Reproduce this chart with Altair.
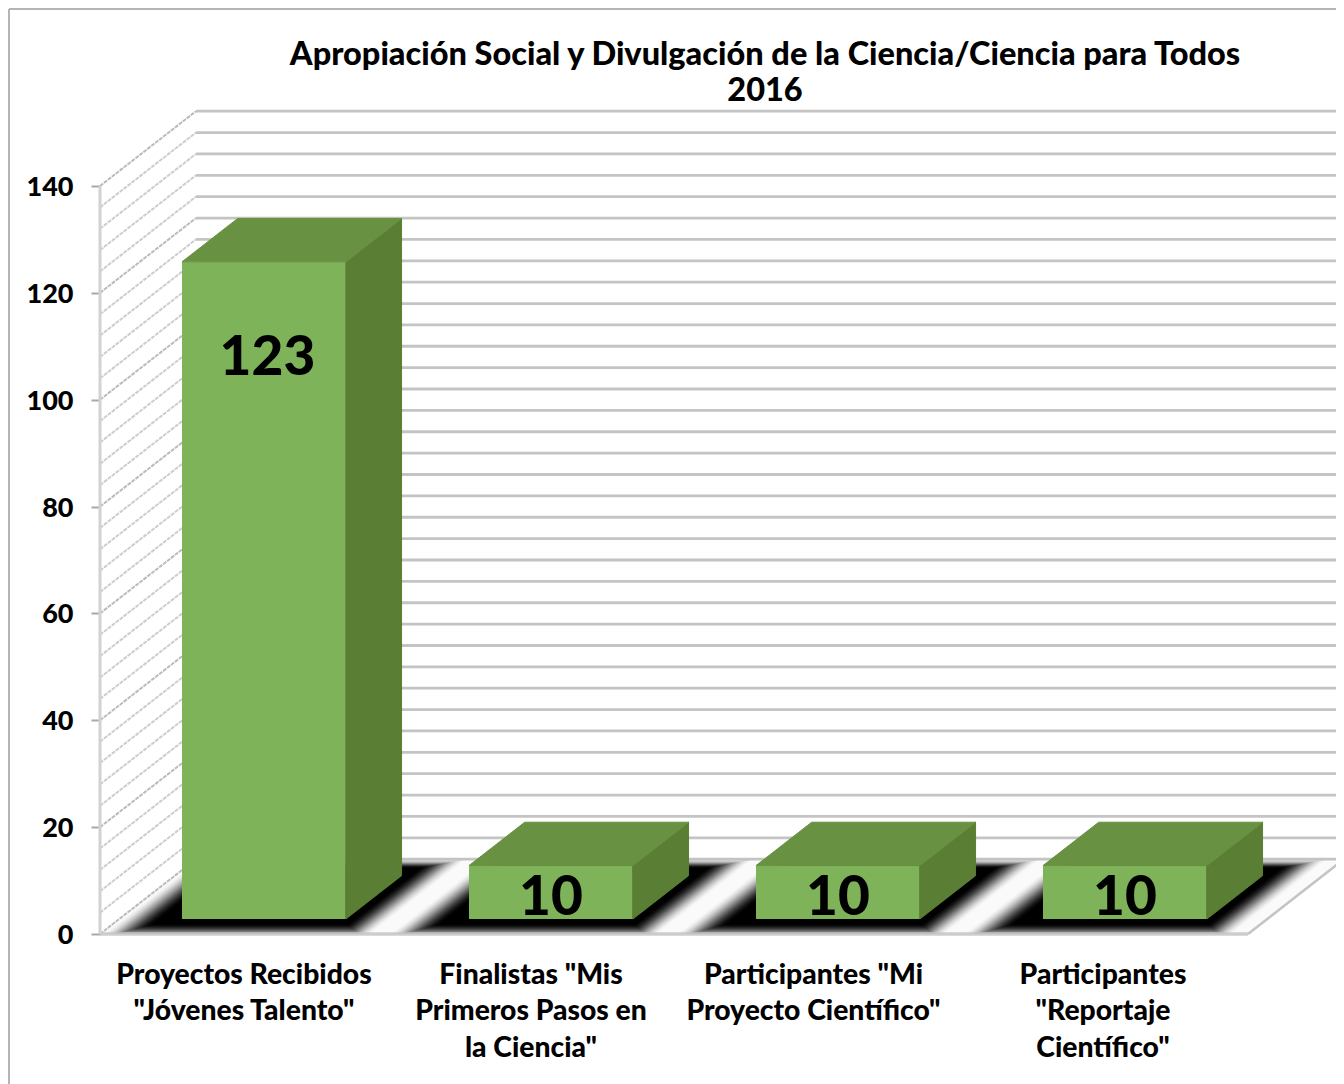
import altair as alt
import pandas as pd

title_lines = ["Apropiación Social y Divulgación de la Ciencia/Ciencia para Todos", "2016"]
categories = ['Proyectos Recibidos\n"Jóvenes Talento"',
              'Finalistas "Mis\nPrimeros Pasos en\nla Ciencia"',
              'Participantes "Mi\nProyecto Científico"',
              'Participantes\n"Reportaje\nCientífico"']
values = [123, 10, 10, 10]
y_ticks = [0, 20, 40, 60, 80, 100, 120, 140]
minor_step = 4

# projection of the oblique box
PX_U = 287.0
PX_V = 5.343
ORIGIN_X, ORIGIN_Y = 100.0, 934.0
W, H = 1328, 1076
DU = 96 / PX_U
DV = 14.0
FRONT, BACK = 0.2, 0.78
GAP, BAR_W = 0.2188, 0.571

x_scale = alt.Scale(domain=[(8 - ORIGIN_X) / PX_U, (8 + W - ORIGIN_X) / PX_U], nice=False, zero=False)
y_scale = alt.Scale(domain=[(ORIGIN_Y - 8 - H) / PX_V, (ORIGIN_Y - 8) / PX_V], nice=False, zero=False)
y_axis = alt.Axis(values=y_ticks, grid=False, domain=False, offset=-92, tickSize=9, tickWidth=2,
                  tickColor="#a8a8a8", labelFont="Lato", labelFontWeight=900, labelFontSize=27,
                  labelColor="black", labelPadding=18, labelOffset=1.5, format="d", title=None)
X = alt.X("x:Q", scale=x_scale, axis=None)
Y = alt.Y("y:Q", scale=y_scale, axis=y_axis, stack=None)
Y2 = alt.Y2("y2:Q")


def para(x0, x1, yf, d0, d1, gid, extra=None):
    """Flat parallelogram between x0 and x1, at height yf, from depth d0 to depth d1."""
    lo = yf + d0 * DV
    hi = yf + d1 * DV
    rows = [(x0 + d0 * DU, lo, lo), (x0 + d1 * DU, lo, hi), (x1 + d0 * DU, lo, hi), (x1 + d1 * DU, hi, hi)]
    out = [{"x": r[0], "y": r[1], "y2": r[2], "g": gid} for r in rows]
    if extra:
        for o in out:
            o.update(extra)
    return out


def area(rows, **kw):
    return alt.Chart(pd.DataFrame(rows)).mark_area(orient="vertical", interpolate="linear", **kw).encode(
        x=X, y=Y, y2=Y2, detail="g:N")


def lines(rows, **kw):
    return alt.Chart(pd.DataFrame(rows)).mark_line(**kw).encode(x=X, y=Y, detail="g:N")


levels = list(range(0, max(y_ticks) + 1, minor_step))

back_rows, side_minor, side_major = [], [], []
for v in levels:
    back_rows += [{"x": DU, "y": v + DV, "g": v}, {"x": 4 + DU, "y": v + DV, "g": v}]
    row = [{"x": 0, "y": v, "g": v}, {"x": DU, "y": v + DV, "g": v}]
    if v in y_ticks:
        side_major += row
    else:
        side_minor += row

# Soft shadow on the floor, as stacked translucent footprints
N = 18
shadow_rows = []
prev = 0.0
for j in range(N):
    t = (j + 1) / N
    target = t * t * (3 - 2 * t)
    alpha = 1 - (1 - target) / (1 - prev) if prev < 1 else 0
    prev = min(target, 0.999)
    s = 1 - j / (N - 1)          # outermost first
    ex_l = (22 + 38 * s) / PX_U
    ex_r = (8 + 36 * s) / PX_U
    ed = (5 + 15 * s) / 75
    eb = 9 * (1 - s) / 75
    for i in range(len(values)):
        x0 = i + GAP
        shadow_rows += para(x0 - ex_l, x0 + BAR_W + ex_r, 0, max(0, FRONT - ed), 1 - eb, f"{i}-{j}", {"op": alpha})

shadow = alt.Chart(pd.DataFrame(shadow_rows)).mark_area(orient="vertical", color="black").encode(
    x=X, y=Y, y2=Y2, detail="g:N", opacity=alt.Opacity("op:Q", scale=None))

front_rows, side_rows, top_rows = [], [], []
for i, val in enumerate(values):
    x0 = i + GAP
    x1 = x0 + BAR_W
    xa = x0 + FRONT * DU
    xb = x1 + FRONT * DU
    base = FRONT * DV
    top = val + base
    dx = (BACK - FRONT) * DU
    dv = (BACK - FRONT) * DV
    front_rows.append({"x": xa, "x2": xb, "y": top, "y2": base, "g": i})
    side_rows += [{"x": xb, "y": base, "y2": top, "g": i},
                  {"x": xb + dx, "y": base + dv, "y2": top + dv, "g": i}]
    top_rows += para(x0, x1, val, FRONT, BACK, i)

front = alt.Chart(pd.DataFrame(front_rows)).mark_rect(color="#7fb359").encode(
    x=X, x2=alt.X2("x2:Q"), y=Y, y2=Y2)

GRID = "#c4c4c4"
floor = area(para(0, 4, 0, 0, 1, "floor"), color="#fafafa")

wall_edge = lines([{"x": 0, "y": 0, "g": 0}, {"x": 0, "y": 140, "g": 0}], color="#d2d2d2", strokeWidth=3)
floor_front = lines([{"x": 0, "y": 0, "g": 0}, {"x": 4, "y": 0, "g": 0}], color="#c4c4c4", strokeWidth=3.5, opacity=0.85)
floor_right = lines([{"x": 4, "y": 0, "g": 0}, {"x": 4 + DU, "y": DV, "g": 0}], color="#c4c4c4", strokeWidth=2.5)

val_rows = [{"x": i + GAP + BAR_W / 2 + FRONT * DU, "y": v + FRONT * DV, "t": str(v)} for i, v in enumerate(values)]
val_text = [
    alt.Chart(pd.DataFrame([r])).mark_text(font="Lato", fontWeight=900, fontSize=55, color="black",
                                           baseline="middle", dx=3.5 if r["t"] == "123" else 0,
                                           dy=96 if r["t"] == "123" else 32).encode(x=X, y=Y, text="t:N")
    for r in val_rows]

cat_nudge = [0.5, 0.5, -4, -1.5]
cat_text = [
    alt.Chart(pd.DataFrame([{"x": i + 0.5, "y": (ORIGIN_Y - 961.5) / PX_V, "t": c}])).mark_text(
        font="Lato", fontWeight=900, fontSize=28.3, color="black", baseline="top",
        lineBreak="\n", lineHeight=36.5, dx=cat_nudge[i]).encode(x=X, y=Y, text="t:N")
    for i, c in enumerate(categories)]

frame_left = alt.Chart(pd.DataFrame({"a": [0]})).mark_rule(color="#b4b4b4", strokeWidth=2).encode(
    x=alt.value(1), y=alt.value(1), y2=alt.value(H))
frame_top = alt.Chart(pd.DataFrame({"a": [0]})).mark_rule(color="#b4b4b4", strokeWidth=2).encode(
    y=alt.value(1), x=alt.value(1), x2=alt.value(W))

chart = alt.layer(
    frame_left, frame_top, floor,
    lines(side_minor, color="#cdcdcd", strokeWidth=2, strokeDash=[4, 1]),
    lines(side_major, color="#bbbbbb", strokeWidth=2, strokeDash=[4, 1]),
    lines(back_rows, color=GRID, strokeWidth=2.8),
    shadow, floor_front, floor_right, wall_edge,
    front,
    area(side_rows, color="#5a7e33", stroke="#5a7e33", strokeWidth=1),
    area(top_rows, color="#689141", stroke="#689141", strokeWidth=1),
    *val_text, *cat_text,
).resolve_scale(x="shared", y="shared").properties(
    width=W, height=H, padding=0,
    autosize=alt.AutoSizeParams(type="none"),
    background="white",
    title=alt.TitleParams(text=title_lines, anchor="middle", font="Lato", fontWeight=900, fontSize=32.5,
                          color="black", lineHeight=36, dx=93, dy=99, offset=0),
).configure_view(stroke=None)

chart.save("out.html", embed_options={"renderer": "svg", "actions": False})
